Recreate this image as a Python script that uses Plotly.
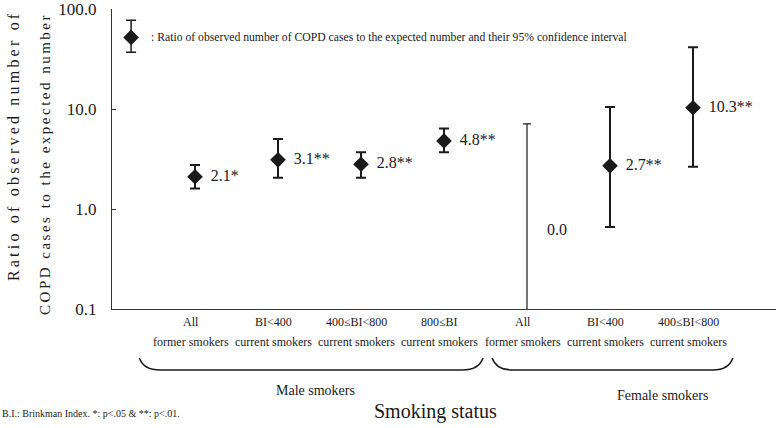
import plotly.graph_objects as go

# ratio of observed / expected COPD cases, with 95% CI
groups = ['Male smokers', 'Female smokers']
cat_line1 = ['All', 'BI<400', '400≤BI<800', '800≤BI', 'All', 'BI<400', '400≤BI<800']
cat_line2 = ['former smokers', 'current smokers', 'current smokers', 'current smokers',
             'former smokers', 'current smokers', 'current smokers']
ratio = [2.1, 3.1, 2.8, 4.8, 0.0, 2.7, 10.3]
ci_low = [1.6, 2.05, 2.05, 3.7, 0.0, 0.66, 2.65]
ci_high = [2.75, 5.0, 3.7, 6.4, 7.1, 10.5, 41.5]
labels = ['2.1*', '3.1**', '2.8**', '4.8**', '0.0', '2.7**', '10.3**']

legend_ratio = 52.0
legend_low = 37.0
legend_high = 77.0

xpos = list(range(1, len(ratio) + 1))
serif = 'Liberation Serif, Times New Roman, serif'
ink = '#1a1a1a'
pad = '\u00a0\u2009'

fig = go.Figure()

# points with a usable ratio
idx = [i for i in range(len(ratio)) if ratio[i] > 0]
fig.add_trace(go.Scatter(
    x=[xpos[i] for i in idx], y=[ratio[i] for i in idx],
    mode='markers+text', text=[pad + labels[i] for i in idx], textposition='middle right',
    textfont=dict(family=serif, size=16, color=ink),
    marker=dict(symbol='diamond', size=12, color=ink),
    error_y=dict(type='data', symmetric=False,
                 array=[ci_high[i] - ratio[i] for i in idx],
                 arrayminus=[ratio[i] - ci_low[i] for i in idx],
                 color=ink, thickness=2, width=5),
    showlegend=False))

# zero ratio: only the upper limit can be drawn on a log axis
for i in range(len(ratio)):
    if ratio[i] == 0:
        fig.add_trace(go.Scatter(
            x=[xpos[i]], y=[ci_high[i]], mode='markers',
            marker=dict(size=1, color='rgba(0,0,0,0)'),
            error_y=dict(type='data', symmetric=False, array=[0],
                         arrayminus=[ci_high[i] - max(ci_low[i], 0.05)],
                         color=ink, thickness=1.2, width=4),
            showlegend=False))
        fig.add_annotation(x=xpos[i] + 0.22, y=-0.2, text=labels[i], showarrow=False,
                           xanchor='left', font=dict(family=serif, size=16, color=ink))

# key symbol
fig.add_trace(go.Scatter(
    x=[0.23], y=[legend_ratio], mode='markers',
    marker=dict(symbol='diamond', size=12, color=ink),
    error_y=dict(type='data', symmetric=False, array=[legend_high - legend_ratio],
                 arrayminus=[legend_ratio - legend_low], color=ink, thickness=1.5, width=5),
    showlegend=False))
fig.add_annotation(x=0.45, y=1.716, xref='x', yref='y', showarrow=False, xanchor='left',
                   text=': Ratio of observed number of COPD cases to the expected number and their 95% confidence interval',
                   font=dict(family=serif, size=11.7, color=ink))

# category labels
for i, x in enumerate(xpos):
    fig.add_annotation(x=x - 0.05, y=-0.043, xref='x', yref='paper', showarrow=False,
                       yanchor='middle', text=cat_line1[i],
                       font=dict(family=serif, size=12, color=ink))
    fig.add_annotation(x=x - 0.05, y=-0.11, xref='x', yref='paper', showarrow=False,
                       yanchor='middle', text=cat_line2[i],
                       font=dict(family=serif, size=12, color=ink))

# curly brackets under the groups
brackets = [(0.33, 0.58, 4.22, 4.47), (4.58, 4.82, 7.24, 7.48)]
for a, b, c, d in brackets:
    fig.add_shape(type='path', xref='x', yref='paper',
                  path=f'M {a},-0.163 Q {a + 0.05},-0.203 {b},-0.203 L {c},-0.203 Q {d - 0.05},-0.203 {d},-0.163',
                  line=dict(color=ink, width=1.5))

group_x = [2.45, 6.63]
group_y = [-0.273, -0.287]
for g, gx, gy in zip(groups, group_x, group_y):
    fig.add_annotation(x=gx, y=gy, xref='x', yref='paper', showarrow=False, yanchor='middle',
                       text=g, font=dict(family=serif, size=14, color=ink))

fig.add_annotation(x=3.9, y=-0.34, xref='x', yref='paper', showarrow=False, yanchor='middle',
                   text='Smoking status', font=dict(family=serif, size=20, color=ink))
fig.add_annotation(x=-0.169, y=-0.347, xref='paper', yref='paper', showarrow=False,
                   xanchor='left', yanchor='middle',
                   text='B.I.: Brinkman Index. *: p<.05 & **: p<.01.',
                   font=dict(family=serif, size=10, color=ink))

# spaced-out two line y title
title1 = '\u2009'.join('Ratio of observed number of')
title2 = '\u2006'.join('COPD cases to the expected number')
fig.add_annotation(x=-0.149, y=0.54, xref='paper', yref='paper', showarrow=False,
                   xanchor='center', yanchor='middle', textangle=-90, text=title1,
                   font=dict(family=serif, size=16, color=ink))
fig.add_annotation(x=-0.101, y=0.48, xref='paper', yref='paper', showarrow=False,
                   xanchor='center', yanchor='middle', textangle=-90, text=title2,
                   font=dict(family=serif, size=15, color=ink))

fig.update_xaxes(range=[0, 8], showline=True, linecolor='#333', linewidth=1,
                 showticklabels=False, ticks='', showgrid=False, zeroline=False,
                 automargin=False)
fig.update_yaxes(type='log', range=[-1, 2], tickvals=[0.1, 1, 10, 100],
                 ticktext=['0.1', '1.0', '10.0', '100.0'], ticks='inside', ticklen=4,
                 tickcolor='#333', showline=True, linecolor='#333', linewidth=1,
                 showgrid=False, zeroline=False, ticklabelstandoff=11, automargin=False,
                 ticklabeloverflow='allow',
                 tickfont=dict(family=serif, size=17, color=ink))
fig.update_layout(width=776, height=428, margin=dict(l=112, r=0, t=9, b=119),
                  plot_bgcolor='white', paper_bgcolor='white')

fig.write_html('out.html', config={'displayModeBar': False},
               post_script="document.body.style.margin='0';")
